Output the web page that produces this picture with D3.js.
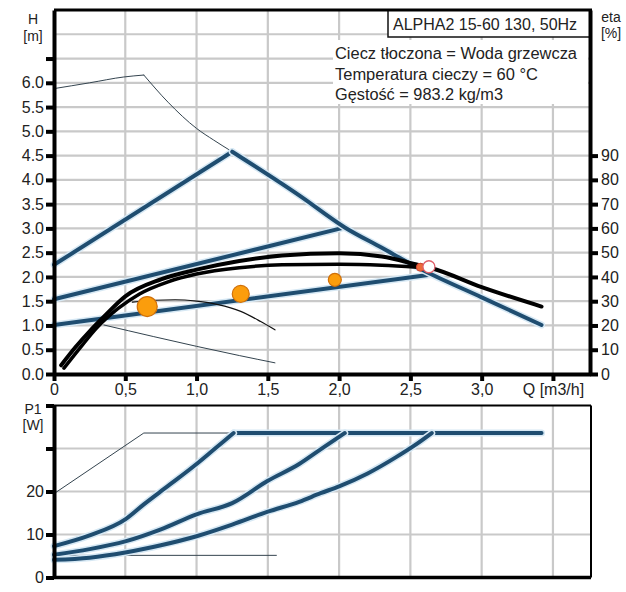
<!DOCTYPE html>
<html><head><meta charset="utf-8">
<script src="https://cdn.jsdelivr.net/npm/d3@7"></script>
<style>
html,body{margin:0;padding:0;background:#fff;}
svg{display:block;font-family:"Liberation Sans",Arial,sans-serif;}
</style></head>
<body><svg id="c" width="626" height="592"></svg>
<script>
// ---------------- DATA ----------------
const qTicks = [0, 0.5, 1.0, 1.5, 2.0, 2.5, 3.0, 3.5];
const qTickLabels = ["0", "0,5", "1,0", "1,5", "2,0", "2,5", "3,0", "Q [m3/h]"];
const hTicks = [0, 0.5, 1.0, 1.5, 2.0, 2.5, 3.0, 3.5, 4.0, 4.5, 5.0, 5.5, 6.0, 6.5];
const hTickLabels = ["0.0","0.5","1.0","1.5","2.0","2.5","3.0","3.5","4.0","4.5","5.0","5.5","6.0",""];
const hGrid = [0.5,1,1.5,2,2.5,3,3.5,4,4.5,5,5.5,6,6.5,7];
const etaTicks = [0, 10, 20, 30, 40, 50, 60, 70, 80, 90];
const etaTickLabels = ["0","10","20","30","40","50","60","70","80","90"];
const pTicks = [0, 10, 20, 30, 40];
const pTickLabels = ["0", "10", "20", "", ""];
const pGrid = [10, 20, 30];

const titleText = "ALPHA2 15-60 130, 50Hz";
const infoLines = ["Ciecz tłoczona = Woda grzewcza", "Temperatura cieczy = 60 °C", "Gęstość = 983.2 kg/m3"];

// H(Q) curves
const maxRiseQ = [0, 0.25, 0.49, 0.63];
const maxRiseH = [5.88, 6.0, 6.12, 6.16];
const maxFallQ = [0.63, 0.8, 1.0, 1.12, 1.25];
const maxFallH = [6.16, 5.6, 5.06, 4.82, 4.58];
const maxThickQ = [1.25, 1.725, 2.04, 2.3, 2.54, 2.65, 3.0, 3.42];
const maxThickH = [4.58, 3.67, 3.02, 2.6, 2.21, 2.05, 1.58, 1.01];
const pp1Q = [0, 1.25];  const pp1H = [2.25, 4.58];
const pp2Q = [0, 2.04];  const pp2H = [1.54, 3.02];
const pp3Q = [0, 2.65];  const pp3H = [1.01, 2.05];
const blackUpQ = [0.05, 0.15, 0.25, 0.35, 0.5, 0.75, 1.0, 1.3, 1.6, 2.0, 2.3, 2.55, 2.65, 3.0, 3.42];
const blackUpH = [0.18, 0.55, 0.88, 1.18, 1.6, 1.95, 2.15, 2.33, 2.44, 2.49, 2.42, 2.25, 2.18, 1.79, 1.39];
const blackLoQ = [0.07, 0.2, 0.3, 0.45, 0.6, 0.8, 1.0, 1.3, 1.6, 2.0, 2.3, 2.55];
const blackLoH = [0.12, 0.6, 0.95, 1.35, 1.65, 1.9, 2.06, 2.19, 2.25, 2.26, 2.24, 2.2];
const thinBlackQ = [0.55, 0.7, 0.85, 1.0, 1.15, 1.31, 1.45, 1.55];
const thinBlackH = [1.48, 1.52, 1.53, 1.5, 1.43, 1.29, 1.08, 0.91];
const thinBlueQ = [0.35, 0.7, 1.0, 1.3, 1.55];
const thinBlueH = [1.01, 0.77, 0.57, 0.38, 0.23];
const dotQ = [0.654, 1.31, 1.97];
const dotH = [1.39, 1.65, 1.94];
const redDotQ = [2.57]; const redDotH = [2.2];
const openDotQ = [2.63]; const openDotH = [2.21];

// P1(Q) curves
const pThinQ = [0, 0.63, 1.26];       const pThinP = [19.5, 33.6, 33.6];
const pMaxQ = [1.26, 3.42];            const pMaxP = [33.6, 33.6];
const pAQ = [0, 0.25, 0.5, 0.63, 0.8, 1.0, 1.13, 1.26];
const pAP = [7.3, 9.8, 13.5, 17, 21.3, 26.4, 30, 33.6];
const pBQ = [0, 0.25, 0.5, 0.75, 1.0, 1.25, 1.5, 1.72, 1.87, 2.04];
const pBP = [5.3, 6.6, 8.4, 11.2, 14.7, 17.3, 22.5, 26.4, 29.8, 33.6];
const pCQ = [0, 0.25, 0.5, 0.75, 1.0, 1.25, 1.5, 1.72, 1.87, 2.0, 2.2, 2.4, 2.55, 2.65];
const pCP = [4.1, 4.6, 5.8, 7.5, 9.6, 12.3, 15.3, 17.6, 19.6, 21.2, 24.2, 28, 31.2, 33.6];
const pMinQ = [0, 1.56];               const pMinP = [5.15, 5.15];

// ---------------- DRAW ----------------
const svg = d3.select("#c");
const L = 54, R = 590, T1 = 10, B1 = 374, T2 = 405.5, B2 = 577.5, R2 = 591;
const x = d3.scaleLinear().domain([0, 3.76]).range([L, R]);
const x2 = d3.scaleLinear().domain([0, 3.76]).range([L, R]);
const yH = d3.scaleLinear().domain([0, 7.5]).range([B1, T1]);
const yEta = d3.scaleLinear().domain([0, 150]).range([B1, T1]);
const yP = d3.scaleLinear().domain([0, 40]).range([B2, T2]);

const gridCol = "#c9c9c9", blue = "#1f4d70", halo = "#d6e8f4", thin = "#34444f";
const zip = (a, b) => a.map((v, i) => [v, b[i]]);

// grids
const g = svg.append("g");
g.selectAll(".vg1").data(qTicks.slice(1)).join("line")
  .attr("x1", d => x(d)).attr("x2", d => x(d)).attr("y1", T1).attr("y2", B1)
  .attr("stroke", gridCol).attr("stroke-width", 2.2);
g.selectAll(".hg1").data(hGrid).join("line")
  .attr("x1", L).attr("x2", R).attr("y1", d => yH(d)).attr("y2", d => yH(d))
  .attr("stroke", gridCol).attr("stroke-width", 2.2);
g.selectAll(".vg2").data(qTicks.slice(1)).join("line")
  .attr("x1", d => x2(d)).attr("x2", d => x2(d)).attr("y1", T2).attr("y2", B2)
  .attr("stroke", gridCol).attr("stroke-width", 2.2);
g.selectAll(".hg2").data(pGrid).join("line")
  .attr("x1", L).attr("x2", R2).attr("y1", d => yP(d)).attr("y2", d => yP(d))
  .attr("stroke", gridCol).attr("stroke-width", 2.2);

// info text white background + legend box
svg.append("rect").attr("x", 333).attr("y", 40).attr("width", 255).attr("height", 64).attr("fill", "#fff");
svg.append("rect").attr("x", 388).attr("y", 10).attr("width", 202).attr("height", 27)
  .attr("fill", "#fff").attr("stroke", "#111").attr("stroke-width", 1.5);
svg.append("text").attr("x", 393).attr("y", 29.5).attr("font-size", 16).attr("fill", "#222").text(titleText);
svg.selectAll(".info").data(infoLines).join("text")
  .attr("x", 335).attr("y", (d, i) => 59 + i * 20.5).attr("font-size", 16).attr("fill", "#222")
  .attr("textLength", (d, i) => [242, 203, 168][i]).attr("lengthAdjust", "spacingAndGlyphs").text(d => d);

const lineH = d3.line().x(d => x(d[0])).y(d => yH(d[1]));
const lineHc = d3.line().x(d => x(d[0])).y(d => yH(d[1])).curve(d3.curveMonotoneX);
const lineP = d3.line().x(d => x2(d[0])).y(d => yP(d[1])).curve(d3.curveMonotoneX);
const lineP0 = d3.line().x(d => x2(d[0])).y(d => yP(d[1]));

function path(gen, pts, col, w, h) {
  if (h) svg.append("path").attr("d", gen(pts)).attr("fill", "none").attr("stroke", halo)
    .attr("stroke-width", w + 3).attr("stroke-linejoin", "round").attr("stroke-linecap", "round");
  svg.append("path").attr("d", gen(pts)).attr("fill", "none").attr("stroke", col)
    .attr("stroke-width", w).attr("stroke-linejoin", "round").attr("stroke-linecap", "round");
}

// top chart curves
path(lineHc, zip(maxRiseQ, maxRiseH), thin, 1);
path(lineHc, zip(maxFallQ, maxFallH), thin, 1);
path(lineHc, zip(thinBlueQ, thinBlueH), thin, 1);
path(lineH, zip(pp1Q, pp1H), blue, 4, true);
path(lineH, zip(pp2Q, pp2H), blue, 4, true);
path(lineH, zip(pp3Q, pp3H), blue, 4, true);
path(lineHc, zip(maxThickQ, maxThickH), blue, 4, true);
path(lineHc, zip(thinBlackQ, thinBlackH), "#111", 1.2);
path(lineHc, zip(blackLoQ, blackLoH), "#000", 3.5);
path(lineHc, zip(blackUpQ, blackUpH), "#000", 4);

const dotRadius = [10, 8.5, 6.5];
svg.selectAll(".dot").data(zip(dotQ, dotH)).join("circle")
  .attr("cx", d => x(d[0])).attr("cy", d => yH(d[1])).attr("r", (d, i) => dotRadius[i])
  .attr("fill", "#fb9d0c").attr("stroke", "#d0700a").attr("stroke-width", 1.2);
svg.selectAll(".rdot").data(zip(redDotQ, redDotH)).join("circle")
  .attr("cx", d => x(d[0])).attr("cy", d => yH(d[1])).attr("r", 4)
  .attr("fill", "#ec6a3a").attr("stroke", "#d04030").attr("stroke-width", 1);
svg.selectAll(".odot").data(zip(openDotQ, openDotH)).join("circle")
  .attr("cx", d => x(d[0])).attr("cy", d => yH(d[1])).attr("r", 6)
  .attr("fill", "#fff").attr("stroke", "#e0606a").attr("stroke-width", 1.3);

// bottom chart curves
path(lineP0, zip(pThinQ, pThinP), thin, 1);
path(lineP0, zip(pMinQ, pMinP), thin, 1);
path(lineP0, zip(pMaxQ, pMaxP), blue, 4, true);
path(lineP, zip(pAQ, pAP), blue, 4, true);
path(lineP, zip(pBQ, pBP), blue, 4, true);
path(lineP, zip(pCQ, pCP), blue, 4, true);

// axes
function styleAxis(sel, w) {
  sel.select(".domain").attr("stroke", "#000").attr("stroke-width", w);
  sel.selectAll(".tick line").attr("stroke", "#000").attr("stroke-width", 4);
  sel.selectAll(".tick text").attr("font-size", 16).attr("fill", "#222")
    .attr("font-family", "'Liberation Sans', Arial, sans-serif");
}
const axL = svg.append("g").attr("transform", `translate(${L},0)`)
  .call(d3.axisLeft(yH).tickValues(hTicks).tickFormat((d, i) => hTickLabels[i]).tickSizeInner(8).tickSizeOuter(0).tickPadding(2));
styleAxis(axL, 4);
const axR = svg.append("g").attr("transform", `translate(${R},0)`)
  .call(d3.axisRight(yEta).tickValues(etaTicks).tickFormat((d, i) => etaTickLabels[i]).tickSizeInner(8).tickSizeOuter(0).tickPadding(3));
styleAxis(axR, 4);
const axB = svg.append("g").attr("transform", `translate(0,${B1})`)
  .call(d3.axisBottom(x).tickValues(qTicks).tickFormat((d, i) => qTickLabels[i]).tickSizeInner(7).tickSizeOuter(0).tickPadding(3));
styleAxis(axB, 4);
svg.append("line").attr("x1", L).attr("x2", R + 2).attr("y1", T1).attr("y2", T1).attr("stroke", "#000").attr("stroke-width", 3);

const axP = svg.append("g").attr("transform", `translate(${L},0)`)
  .call(d3.axisLeft(yP).tickValues(pTicks).tickFormat((d, i) => pTickLabels[i]).tickSizeInner(8).tickSizeOuter(0).tickPadding(2));
styleAxis(axP, 4);
svg.append("line").attr("x1", L).attr("x2", R2).attr("y1", B2).attr("y2", B2).attr("stroke", "#000").attr("stroke-width", 3.5);
svg.append("line").attr("x1", L).attr("x2", R2).attr("y1", T2).attr("y2", T2).attr("stroke", "#000").attr("stroke-width", 2);
svg.append("line").attr("x1", R2).attr("x2", R2).attr("y1", T2).attr("y2", B2).attr("stroke", "#000").attr("stroke-width", 2);

// axis titles
const titles = [["H", 33, 24], ["[m]", 33, 41], ["eta", 611, 22], ["[%]", 611, 38], ["P1", 33, 414], ["[W]", 33, 430]];
svg.selectAll(".ttl").data(titles).join("text")
  .attr("x", d => d[1]).attr("y", d => d[2]).attr("text-anchor", "middle")
  .attr("font-size", 14).attr("fill", "#222").text(d => d[0]);
</script></body></html>
